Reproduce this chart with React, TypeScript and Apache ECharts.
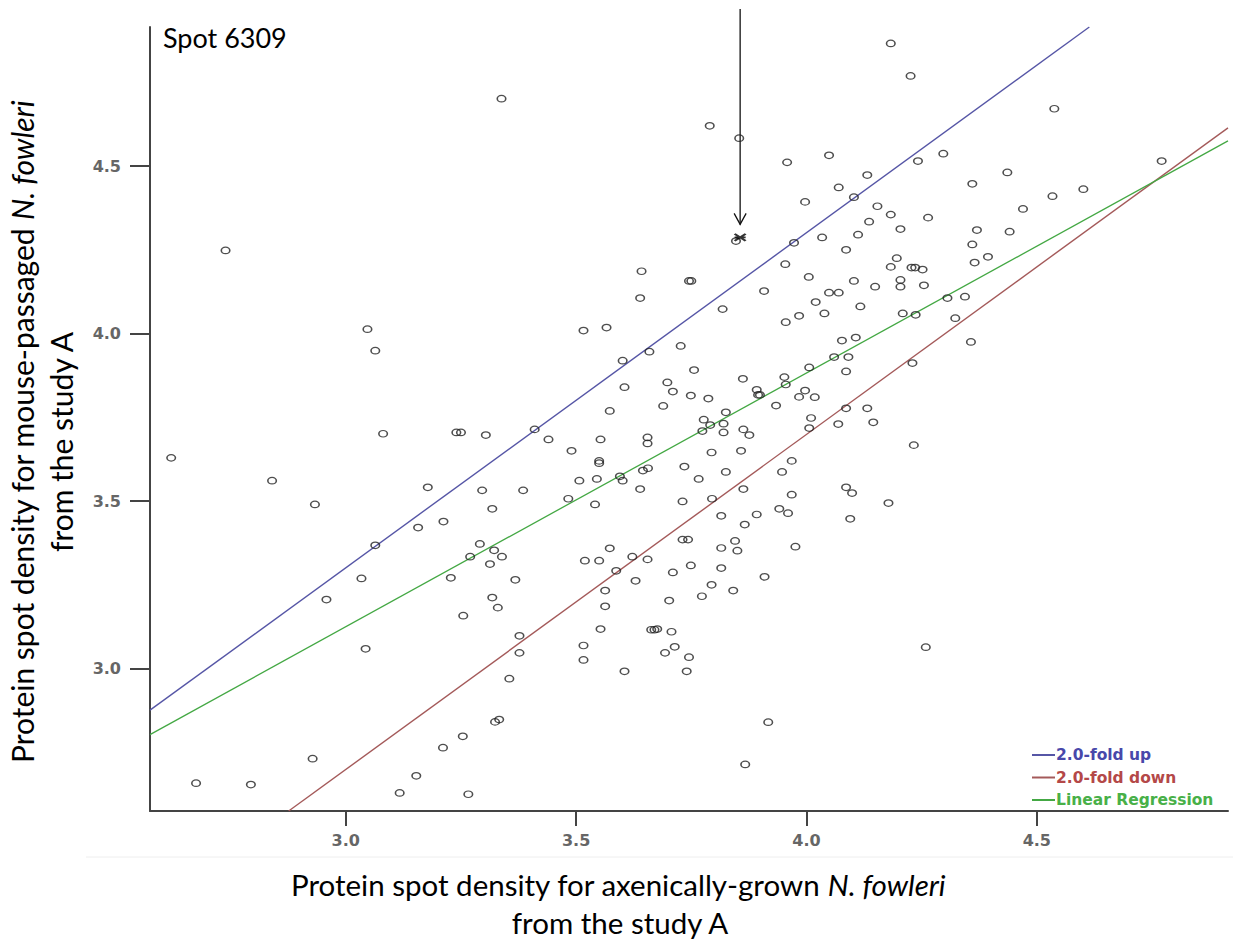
import React, { useEffect, useRef } from "react";
import * as echarts from "echarts";

// ---- data ----
const axisMin = 2.575;
const axisMax = 4.915;
const xTicks = [3.0, 3.5, 4.0, 4.5];
const yTicks = [3.0, 3.5, 4.0, 4.5];

const seriesNames = ["2.0-fold up", "2.0-fold down", "Linear Regression"];
const seriesColors = ["#5656a6", "#a45a5a", "#44a844"];
const legendTextColors = ["#4848aa", "#b44848", "#48b048"];

const foldUpLine: [number, number][] = [[2.575, 2.876], [4.614, 4.915]];
const foldDownLine: [number, number][] = [[2.876, 2.575], [4.915, 4.614]];
const regressionLine: [number, number][] = [[2.575, 2.803], [4.915, 4.575]];

const spot6309: [number, number] = [3.856, 4.287];
const spotLabel = "Spot 6309";

const xTitle1 = "Protein spot density for axenically-grown ";
const yTitle1 = "Protein spot density for mouse-passaged ";
const speciesName = "N. fowleri";
const titleLine2 = "from the study A";

const spots: [number, number][] = [
  [2.739, 4.248], [3.338, 4.701], [3.790, 4.620], [3.854, 4.583], [3.958, 4.511],
  [3.997, 4.393], [3.847, 4.276], [3.973, 4.271], [4.034, 4.287], [3.642, 4.186],
  [3.745, 4.157], [3.750, 4.157], [3.639, 4.106], [3.954, 4.207], [4.005, 4.169],
  [3.908, 4.127], [4.020, 4.094], [3.818, 4.073], [3.984, 4.053], [4.183, 4.866],
  [4.226, 4.769], [4.538, 4.671], [4.049, 4.532], [4.297, 4.537], [4.242, 4.515],
  [4.771, 4.515], [4.132, 4.473], [4.436, 4.481], [4.070, 4.436], [4.360, 4.447],
  [4.601, 4.431], [4.534, 4.410], [4.103, 4.407], [4.154, 4.380], [4.470, 4.372],
  [4.183, 4.355], [4.264, 4.346], [4.136, 4.334], [4.204, 4.312], [4.370, 4.309],
  [4.441, 4.304], [4.112, 4.295], [4.360, 4.266], [4.086, 4.250], [4.196, 4.225],
  [4.394, 4.229], [4.365, 4.212], [4.183, 4.199], [4.228, 4.197], [4.236, 4.197],
  [4.252, 4.191], [4.103, 4.157], [4.204, 4.160], [4.149, 4.140], [4.204, 4.140],
  [4.255, 4.144], [4.049, 4.122], [4.070, 4.122], [4.306, 4.106], [4.344, 4.110],
  [4.117, 4.081], [4.039, 4.060], [4.209, 4.060], [4.237, 4.056], [4.323, 4.046],
  [4.357, 3.975], [4.077, 3.979], [4.107, 3.988], [4.060, 3.930], [4.091, 3.930],
  [4.006, 3.899], [4.086, 3.887], [4.230, 3.912], [3.997, 3.830], [3.984, 3.811],
  [4.018, 3.810], [4.086, 3.777], [4.132, 3.777], [4.010, 3.748], [4.006, 3.718],
  [4.069, 3.730], [4.145, 3.735], [4.233, 3.667], [4.086, 3.541], [4.099, 3.524],
  [4.178, 3.494], [4.095, 3.447], [4.259, 3.064], [3.955, 4.034], [3.516, 4.009],
  [3.566, 4.018], [3.659, 3.946], [3.601, 3.919], [3.727, 3.963], [3.756, 3.891],
  [3.605, 3.840], [3.698, 3.854], [3.710, 3.827], [3.749, 3.815], [3.787, 3.806],
  [3.689, 3.784], [3.862, 3.865], [3.892, 3.832], [3.895, 3.817], [3.899, 3.817],
  [3.952, 3.870], [3.955, 3.848], [3.934, 3.785], [3.573, 3.769], [3.825, 3.765],
  [3.777, 3.743], [3.791, 3.727], [3.820, 3.731], [3.774, 3.709], [3.820, 3.705],
  [3.863, 3.714], [3.876, 3.697], [3.858, 3.650], [3.794, 3.645], [3.735, 3.603],
  [3.825, 3.587], [3.766, 3.566], [3.968, 3.620], [3.947, 3.587], [3.863, 3.536],
  [3.968, 3.519], [3.795, 3.507], [3.731, 3.499], [3.941, 3.477], [3.960, 3.464],
  [3.892, 3.460], [3.815, 3.456], [3.866, 3.430], [3.655, 3.690], [3.655, 3.672],
  [3.553, 3.684], [3.440, 3.684], [3.490, 3.650], [3.410, 3.714], [3.240, 3.705],
  [3.250, 3.705], [3.304, 3.697], [3.550, 3.620], [3.550, 3.613], [3.656, 3.598],
  [3.645, 3.591], [3.595, 3.574], [3.601, 3.561], [3.507, 3.561], [3.545, 3.566],
  [3.639, 3.536], [3.483, 3.507], [3.541, 3.490], [3.178, 3.541], [3.296, 3.532],
  [3.385, 3.532], [3.318, 3.477], [3.157, 3.421], [3.212, 3.439], [3.291, 3.372],
  [3.322, 3.353], [3.339, 3.334], [3.270, 3.334], [3.313, 3.312], [3.228, 3.271],
  [3.368, 3.265], [3.318, 3.212], [3.330, 3.182], [3.255, 3.158], [3.573, 3.359],
  [3.519, 3.322], [3.550, 3.322], [3.622, 3.334], [3.655, 3.326], [3.587, 3.292],
  [3.629, 3.262], [3.563, 3.233], [3.563, 3.186], [3.731, 3.385], [3.743, 3.385],
  [3.845, 3.381], [3.815, 3.360], [3.850, 3.352], [3.976, 3.364], [3.749, 3.308],
  [3.815, 3.300], [3.710, 3.287], [3.909, 3.274], [3.794, 3.250], [3.841, 3.233],
  [3.773, 3.216], [3.702, 3.203], [3.377, 3.098], [3.377, 3.047], [3.553, 3.118],
  [3.516, 3.069], [3.516, 3.026], [3.663, 3.116], [3.670, 3.116], [3.676, 3.118],
  [3.707, 3.110], [3.693, 3.047], [3.714, 3.065], [3.745, 3.034], [3.740, 2.992],
  [3.605, 2.992], [3.355, 2.970], [3.324, 2.841], [3.333, 2.848], [3.254, 2.798],
  [3.211, 2.764], [3.153, 2.680], [3.117, 2.629], [3.266, 2.625], [3.917, 2.840],
  [3.867, 2.714], [2.958, 3.206], [3.043, 3.059], [2.928, 2.731], [2.675, 2.658],
  [2.794, 2.654], [3.047, 4.013], [3.064, 3.949], [3.081, 3.701], [2.621, 3.629],
  [2.840, 3.561], [2.933, 3.490], [3.064, 3.368], [3.034, 3.269],
];

const tickFont = {
  fontFamily: "DejaVu Sans",
  fontSize: 16,
  fontWeight: "bold" as const,
  color: "#666",
};

export default function App() {
  const ref = useRef<HTMLDivElement>(null);

  useEffect(() => {
    if (!ref.current) return;
    const chart = echarts.init(ref.current, null, { renderer: "svg" });

    const axisCommon = {
      type: "value" as const,
      min: axisMin,
      max: axisMax,
      splitLine: { show: false },
      axisLine: { show: true, lineStyle: { color: "#444", width: 2 } },
    };

    chart.setOption({
      animation: false,
      backgroundColor: "#fff",
      grid: { left: 150, right: 5, top: 27, bottom: 130 },
      xAxis: {
        ...axisCommon,
        axisTick: {
          show: true,
          length: 15,
          customValues: xTicks,
          lineStyle: { color: "#444", width: 2 },
        },
        axisLabel: {
          ...tickFont,
          customValues: xTicks,
          margin: 21,
          formatter: (v: number) => v.toFixed(1),
        },
      },
      yAxis: {
        ...axisCommon,
        axisTick: {
          show: true,
          length: 20,
          customValues: yTicks,
          lineStyle: { color: "#444", width: 2 },
        },
        axisLabel: {
          ...tickFont,
          customValues: yTicks,
          margin: 29,
          padding: [8, 0, 0, 0],
          formatter: (v: number) => v.toFixed(1),
        },
      },
      legend: {
        orient: "vertical",
        left: 1032,
        top: 747,
        padding: 0,
        itemWidth: 23,
        itemHeight: 2,
        itemGap: 6.5,
        icon: "rect",
        selectedMode: false,
        textStyle: {
          fontFamily: "DejaVu Sans",
          fontSize: 15.5,
          fontWeight: "bold",
          lineHeight: 16,
          padding: [0, 0, 0, -4],
        },
        data: seriesNames.map((n, i) => ({
          name: n,
          textStyle: { color: legendTextColors[i] },
        })),
      },
      series: [
        {
          name: seriesNames[0],
          type: "line",
          data: foldUpLine,
          showSymbol: false,
          lineStyle: { color: seriesColors[0], width: 1.4 },
          itemStyle: { color: seriesColors[0] },
          z: 2,
        },
        {
          name: seriesNames[1],
          type: "line",
          data: foldDownLine,
          showSymbol: false,
          lineStyle: { color: seriesColors[1], width: 1.4 },
          itemStyle: { color: seriesColors[1] },
          z: 2,
        },
        {
          name: seriesNames[2],
          type: "line",
          data: regressionLine,
          showSymbol: false,
          lineStyle: { color: seriesColors[2], width: 1.3 },
          itemStyle: { color: seriesColors[2] },
          z: 2,
        },
        {
          name: "spots",
          type: "scatter",
          data: spots,
          symbol: "path://M0,3A4,3,0,1,1,8,3A4,3,0,1,1,0,3Z",
          symbolSize: [8.5, 6.5],
          itemStyle: {
            color: "rgba(255,255,255,0)",
            borderColor: "#222",
            borderWidth: 1.4,
          },
          z: 3,
        },
        {
          name: spotLabel,
          type: "scatter",
          data: [spot6309],
          symbol: "path://M0,0L10,7M10,0L0,7M0,3.5L10,3.5",
          symbolSize: [11, 7],
          itemStyle: { color: "#000", borderColor: "#000", borderWidth: 2 },
          z: 4,
        },
      ],
    });

    const p = chart.convertToPixel({ gridIndex: 0 }, spot6309) as number[];
    const tipY = p[1] - 13;

    chart.setOption({
      graphic: [
        {
          type: "text",
          x: 163,
          y: 37,
          style: {
            text: spotLabel,
            fontFamily: "Lato",
            fontSize: 27,
            fill: "#000",
            textAlign: "left",
            textVerticalAlign: "middle",
          },
        },
        {
          type: "line",
          shape: { x1: p[0], y1: 9, x2: p[0], y2: tipY },
          style: { stroke: "#111", lineWidth: 1.3 },
        },
        {
          type: "polyline",
          shape: {
            points: [
              [p[0] - 6, tipY - 11],
              [p[0], tipY],
              [p[0] + 6, tipY - 11],
            ],
          },
          style: { stroke: "#111", lineWidth: 1.3, fill: "none" },
        },
        {
          type: "line",
          shape: { x1: 86, y1: 857, x2: 1233, y2: 857 },
          style: { stroke: "#eeeeee", lineWidth: 1 },
        },
        {
          type: "text",
          x: 618,
          y: 884,
          style: {
            text: `{n|${xTitle1}}{i|${speciesName}}`,
            textAlign: "center",
            textVerticalAlign: "middle",
            rich: {
              n: { fontFamily: "Lato", fontSize: 29.5, fill: "#000" },
              i: { fontFamily: "Lato", fontSize: 29.5, fontStyle: "italic", fill: "#000" },
            },
          },
        },
        {
          type: "text",
          x: 620,
          y: 922,
          style: {
            text: titleLine2,
            fontFamily: "Lato",
            fontSize: 29.5,
            fill: "#000",
            textAlign: "center",
            textVerticalAlign: "middle",
          },
        },
        {
          type: "text",
          x: 22,
          y: 432,
          rotation: Math.PI / 2,
          style: {
            text: `{n|${yTitle1}}{i|${speciesName}}`,
            textAlign: "center",
            textVerticalAlign: "middle",
            rich: {
              n: { fontFamily: "Lato", fontSize: 30, fill: "#000" },
              i: { fontFamily: "Lato", fontSize: 30, fontStyle: "italic", fill: "#000" },
            },
          },
        },
        {
          type: "text",
          x: 61,
          y: 442,
          rotation: Math.PI / 2,
          style: {
            text: titleLine2,
            fontFamily: "Lato",
            fontSize: 30,
            fill: "#000",
            textAlign: "center",
            textVerticalAlign: "middle",
          },
        },
      ],
    });

    return () => {
      chart.dispose();
    };
  }, []);

  return (
    <div
      ref={ref}
      style={{
        position: "absolute",
        left: 0,
        top: 0,
        width: 1233,
        height: 941,
        background: "#fff",
      }}
    />
  );
}
